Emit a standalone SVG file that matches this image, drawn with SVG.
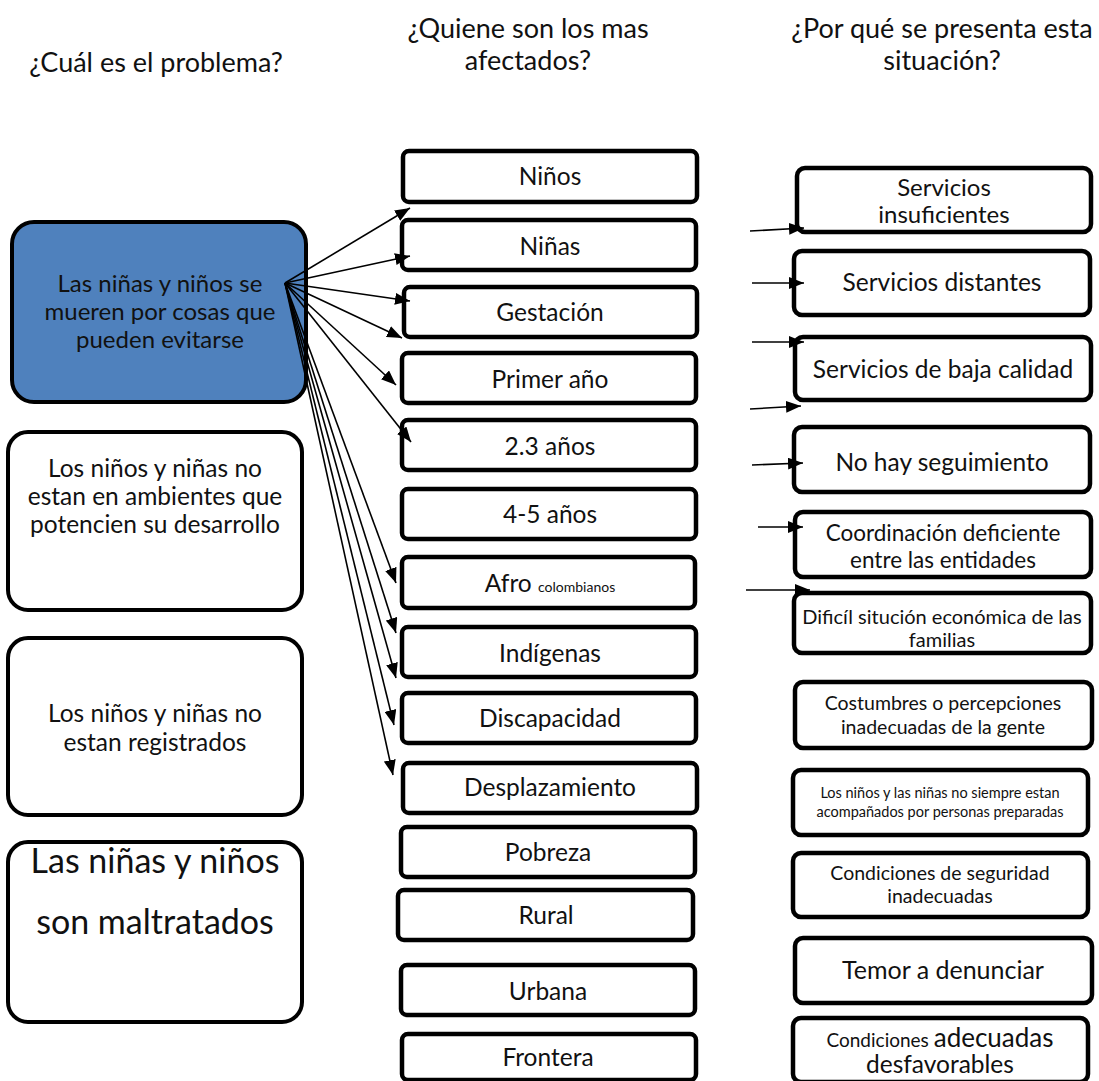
<svg xmlns="http://www.w3.org/2000/svg" width="1099" height="1081" viewBox="0 0 1099 1081">
<defs>
<marker id="ah" markerUnits="userSpaceOnUse" markerWidth="16" markerHeight="12" refX="15" refY="6" orient="auto">
<path d="M0,0 L15,6 L0,12 z" fill="#000"/>
</marker>
<style>
text{font-family:Lato,"Open Sans","Liberation Sans",sans-serif;fill:#111;text-anchor:middle}
.hd{font-size:27px}
.big{fill:#fff;stroke:#000;stroke-width:4}
.mid{fill:#fff;stroke:#000;stroke-width:4.5}
.rt{fill:#fff;stroke:#000;stroke-width:4.5}
.m{font-size:24.5px}
.c{stroke:#000;stroke-width:1.6;fill:none;marker-end:url(#ah)}
</style>
</defs>
<rect width="1099" height="1081" fill="#fff"/>
<g id="headers">
<text class="hd" x="156" y="72">¿Cuál es el problema?</text>
<text class="hd" x="528" y="38">¿Quiene son los mas</text>
<text class="hd" x="528" y="70">afectados?</text>
<text class="hd" x="942" y="38">¿Por qué se presenta esta</text>
<text class="hd" x="942" y="70">situación?</text>
</g>
<g id="p1">
<rect x="12" y="222" width="294" height="180" rx="22" fill="#4f81bd" stroke="#000" stroke-width="4"/>
<text x="160" y="292" font-size="24">Las niñas y niños se</text>
<text x="160" y="320" font-size="24">mueren por cosas que</text>
<text x="160" y="348" font-size="24">pueden evitarse</text>
</g>
<g id="p2">
<rect x="8" y="432" width="294" height="178" rx="20" class="big"/>
<text x="155" y="477" font-size="24.5">Los niños y niñas no</text>
<text x="155" y="505" font-size="24.5">estan en ambientes que</text>
<text x="155" y="533" font-size="24.5">potencien su  desarrollo</text>
</g>
<g id="p3">
<rect x="8" y="638" width="294" height="177" rx="20" class="big"/>
<text x="155" y="722" font-size="24.5">Los niños y niñas no</text>
<text x="155" y="751" font-size="24.5">estan registrados</text>
</g>
<g id="p4">
<rect x="8" y="842" width="294" height="180" rx="20" class="big"/>
<text x="155" y="873" font-size="34">Las niñas y niños</text>
<text x="155" y="934" font-size="34">son maltratados</text>
</g>
<g id="a1"><rect x="403" y="151" width="294" height="51" rx="6" class="mid"/><text class="m" x="550" y="185">Niños</text></g>
<g id="a2"><rect x="402" y="220" width="294" height="50" rx="6" class="mid"/><text class="m" x="550" y="255">Niñas</text></g>
<g id="a3"><rect x="404" y="287" width="293" height="50" rx="6" class="mid"/><text class="m" x="550" y="321">Gestación</text></g>
<g id="a4"><rect x="402" y="353" width="294" height="50" rx="6" class="mid"/><text class="m" x="550" y="388">Primer año</text></g>
<g id="a5"><rect x="402" y="420" width="294" height="50" rx="6" class="mid"/><text class="m" x="550" y="455">2.3 años</text></g>
<g id="a6"><rect x="402" y="489" width="294" height="50" rx="6" class="mid"/><text class="m" x="550" y="523">4-5 años</text></g>
<g id="a7"><rect x="402" y="557" width="293" height="51" rx="6" class="mid"/><text class="m" x="550" y="592">Afro <tspan font-size="14">colombianos</tspan></text></g>
<g id="a8"><rect x="402" y="627" width="294" height="50" rx="6" class="mid"/><text class="m" x="550" y="662">Indígenas</text></g>
<g id="a9"><rect x="402" y="693" width="294" height="50" rx="6" class="mid"/><text class="m" x="550" y="727">Discapacidad</text></g>
<g id="a10"><rect x="403" y="763" width="294" height="50" rx="6" class="mid"/><text class="m" x="550" y="796">Desplazamiento</text></g>
<g id="a11"><rect x="401" y="827" width="294" height="50" rx="6" class="mid"/><text class="m" x="548" y="861">Pobreza</text></g>
<g id="a12"><rect x="398" y="890" width="295" height="50" rx="6" class="mid"/><text class="m" x="546" y="924">Rural</text></g>
<g id="a13"><rect x="401" y="965" width="294" height="50" rx="6" class="mid"/><text class="m" x="548" y="1000">Urbana</text></g>
<g id="a14"><rect x="402" y="1034" width="294" height="46" rx="6" class="mid"/><text class="m" x="548" y="1066">Frontera</text></g>
<g id="r1"><rect x="797" y="168" width="294" height="64" rx="8" class="rt"/><text x="944" y="196" font-size="24">Servicios</text><text x="944" y="223" font-size="24">insuficientes</text></g>
<g id="r2"><rect x="794" y="251" width="296" height="64" rx="8" class="rt"/><text x="942" y="291" font-size="24.5">Servicios distantes</text></g>
<g id="r3"><rect x="795" y="337" width="296" height="63" rx="8" class="rt"/><text x="943" y="378" font-size="24.5">Servicios de baja calidad</text></g>
<g id="r4"><rect x="794" y="427" width="296" height="65" rx="8" class="rt"/><text x="942" y="471" font-size="24.5">No hay seguimiento</text></g>
<g id="r5"><rect x="795" y="512" width="296" height="65" rx="8" class="rt"/><text x="943" y="541" font-size="22.5">Coordinación deficiente</text><text x="943" y="568" font-size="22.5">entre las entidades</text></g>
<g id="r6"><rect x="794" y="593" width="297" height="60" rx="8" class="rt"/><text x="942" y="624" font-size="20">Dificíl situción económica de las</text><text x="942" y="647" font-size="20">familias</text></g>
<g id="r7"><rect x="795" y="682" width="297" height="66" rx="8" class="rt"/><text x="943" y="710" font-size="19.5">Costumbres o percepciones</text><text x="943" y="734" font-size="19.5">inadecuadas de la gente</text></g>
<g id="r8"><rect x="793" y="770" width="295" height="65" rx="8" class="rt"/><text x="940" y="798" font-size="14.5">Los niños y las niñas no siempre estan</text><text x="940" y="817" font-size="14.5">acompañados por personas preparadas</text></g>
<g id="r9"><rect x="793" y="853" width="295" height="64" rx="8" class="rt"/><text x="940" y="880" font-size="19.5">Condiciones de seguridad</text><text x="940" y="903" font-size="19.5">inadecuadas</text></g>
<g id="r10"><rect x="795" y="938" width="297" height="65" rx="8" class="rt"/><text x="943" y="979" font-size="25">Temor a denunciar</text></g>
<g id="r11"><rect x="793" y="1018" width="295" height="64" rx="8" class="rt"/><text x="940" y="1047" font-size="26"><tspan font-size="19">Condiciones </tspan>adecuadas</text><text x="940" y="1073" font-size="24.5">desfavorables</text></g>
<g id="connectors">
<line class="c" x1="285" y1="283" x2="410" y2="208"/>
<line class="c" x1="285" y1="283" x2="410" y2="256"/>
<line class="c" x1="285" y1="283" x2="410" y2="301"/>
<line class="c" x1="285" y1="283" x2="402" y2="338"/>
<line class="c" x1="285" y1="283" x2="396" y2="385"/>
<line class="c" x1="285" y1="283" x2="411" y2="442"/>
<line class="c" x1="285" y1="283" x2="396" y2="583"/>
<line class="c" x1="285" y1="283" x2="396" y2="633"/>
<line class="c" x1="285" y1="283" x2="396" y2="678"/>
<line class="c" x1="285" y1="283" x2="394" y2="725"/>
<line class="c" x1="285" y1="283" x2="393" y2="775"/>
<line class="c" x1="750" y1="231" x2="804" y2="228"/>
<line class="c" x1="752" y1="283" x2="804" y2="283"/>
<line class="c" x1="752" y1="342" x2="804" y2="342"/>
<line class="c" x1="750" y1="409" x2="801" y2="406"/>
<line class="c" x1="752" y1="465" x2="803" y2="463"/>
<line class="c" x1="758" y1="527" x2="803" y2="527"/>
<line class="c" x1="746" y1="590" x2="810" y2="590"/>
</g>
</svg>
